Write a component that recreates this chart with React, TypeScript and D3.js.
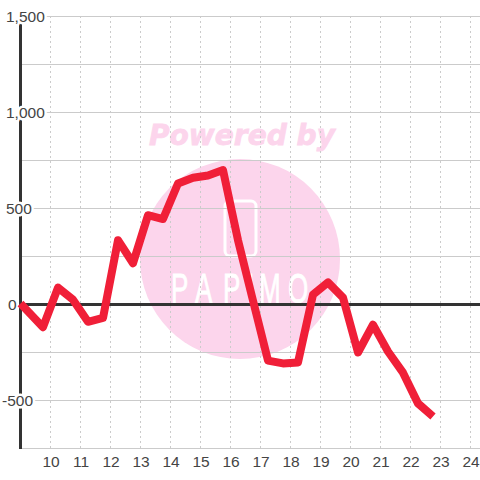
import React from "react";
import * as d3 from "d3";

const hours = [9, 9.75, 10.25, 10.75, 11.25, 11.75, 12.25, 12.75, 13.25, 13.75, 14.25, 14.75, 15.25, 15.75, 16.25, 16.75, 17.25, 17.75, 18.25, 18.75, 19.25, 19.75, 20.25, 20.75, 21.25, 21.75, 22.25, 22.75];
const values = [5, -118, 88, 25, -90, -70, 335, 215, 465, 445, 630, 660, 672, 700, 335, 20, -292, -307, -302, 52, 115, 36, -250, -105, -245, -355, -515, -583];
const xTicks = [10, 11, 12, 13, 14, 15, 16, 17, 18, 19, 20, 21, 22, 23, 24];
const yGrid = [1500, 1250, 1000, 750, 500, 250, -250, -500, -750];
const yLabels = [
  { v: 1500, t: "1,500", dx: 6 },
  { v: 1000, t: "1,000", dx: 6 },
  { v: 500, t: "500", dx: 6 },
  { v: 0, t: "0", dx: 8 },
  { v: -500, t: "-500", dx: 2 },
];
const logoLetters = [
  { c: "P", lx: 171 },
  { c: "A", lx: 195 },
  { c: "P", lx: 223 },
  { c: "I", lx: 247 },
  { c: "M", lx: 259 },
  { c: "O", lx: 288 },
];

const x = d3.scaleLinear().domain([9, 24]).range([20.5, 470.5]);
const y = d3.scaleLinear().domain([1500, -750]).range([16.5, 448.5]);
const line = d3.line<number>().x((_, i) => x(hours[i])).y((d) => y(d)).curve(d3.curveLinear);

const PINK = "#fcd5ec";
const FONT = "'Liberation Sans', Arial, sans-serif";

export default function App() {
  return (
    <svg width={480} height={480} style={{ position: "absolute", left: 0, top: 0, background: "#fff" }}>
      <g>
        <circle cx={240} cy={259} r={100} fill={PINK} />
        <text x={149} y={145} fontFamily="'DejaVu Sans'" fontWeight="bold" fontStyle="italic" fontSize={29} fill={PINK} stroke={PINK} strokeWidth={0.8} textLength={186} lengthAdjust="spacingAndGlyphs">Powered by</text>
        <rect x={225} y={201} width={31} height={55} rx={5} fill="none" stroke="#fff" strokeWidth={3} />
        {logoLetters.map((l, i) => (
          <text key={i} transform={`translate(${l.lx},303) scale(0.62,1)`} fontFamily={FONT} fontSize={42} fill="#fff" stroke="#fff" strokeWidth={0.8}>{l.c}</text>
        ))}
      </g>
      <g stroke="#cbcbcb" strokeWidth={1}>
        {yGrid.map((v) => (
          <line key={v} x1={20} x2={480} y1={y(v)} y2={y(v)} />
        ))}
        {xTicks.map((t) => (
          <line key={t} x1={x(t)} x2={x(t)} y1={16} y2={448} strokeDasharray="2 3" />
        ))}
      </g>
      <line x1={20} x2={480} y1={y(0)} y2={y(0)} stroke="#333" strokeWidth={3} />
      <line x1={20.5} x2={20.5} y1={16} y2={449} stroke="#333" strokeWidth={3} />
      <g fontFamily={FONT} fontSize={15.5} fill="#444">
        {yLabels.map((l) => (
          <text key={l.v} x={l.dx} y={y(l.v) + 5.5} stroke="#fff" strokeWidth={5} paintOrder="stroke" strokeLinejoin="round">{l.t}</text>
        ))}
        {xTicks.map((t) => (
          <text key={t} x={x(t) + 0.5} y={467} textAnchor="middle">{t}</text>
        ))}
      </g>
      <path d={line(values) ?? ""} fill="none" stroke="#f01f38" strokeWidth={8} strokeLinejoin="round" strokeLinecap="butt" />
    </svg>
  );
}
